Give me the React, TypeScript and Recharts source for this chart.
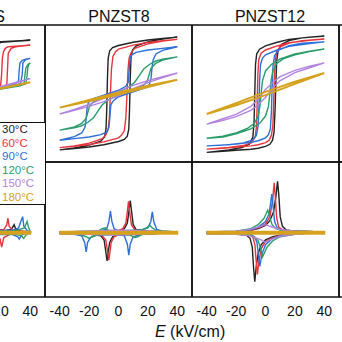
import { LineChart, Line, XAxis, YAxis } from 'recharts'

type Pt = [number, number]

const temps = ['30°C', '60°C', '90°C', '120°C', '150°C', '180°C']
const colors = ['#222222', '#e8333a', '#2d6fd8', '#2a9d6b', '#b383e0', '#d6a21e']
const titles = ['PNZS', 'PNZST8', 'PNZST12']
const eTicks = [-40, -30, -20, -10, 0, 10, 20, 30, 40]
const eLabels = [-40, -20, 0, 20, 40]
const eLabelsCut = [20, 40]
const pTicks = [-35, -25, -15, -5, 5, 15, 25, 35]
const jTicks = [-37, -27, -17, -7, 3, 13, 23, 33]

// P-E loops [E, P]: down branch from +40 then up branch from -40
const pe4_30: Pt[] = [[40,33],[20,32.2],[0,30.5],[-6,28],[-9,20],[-10,0],[-11,-20],[-14,-28],[-20,-31.8],[-40,-33],[-20,-32.2],[0,-30.5],[6,-28],[9,-20],[10,0],[11,20],[14,28],[20,31.8],[40,33]]
const pe4_60: Pt[] = [[40,30],[30,29.4],[25,29],[23,28],[21.8,26],[21,22],[20.5,12],[19.8,5],[15,3.2],[0,0.5],[-15,-2.5],[-22,-4],[-24,-5.5],[-24.5,-15],[-25,-25],[-27,-28],[-30,-29],[-40,-30],[-30,-29.4],[-25,-29],[-23,-28],[-21.8,-26],[-21,-22],[-20.5,-12],[-19.8,-5],[-15,-3.2],[0,-0.5],[15,2.5],[22,4],[24,5.5],[24.5,15],[25,25],[27,28],[30,29],[40,30]]
const pe4_90: Pt[] = [[40,21.8],[37,21.3],[34.5,20.5],[33,19],[32.4,14],[32,8],[30,6],[20,3.5],[0,0.4],[-20,-3],[-30,-5],[-33.5,-6.5],[-34.5,-12],[-35,-19],[-37,-21],[-40,-21.8],[-37,-21.3],[-34.5,-20.5],[-33,-19],[-32.4,-14],[-32,-8],[-30,-6],[-20,-3.5],[0,-0.4],[20,3],[30,5],[33.5,6.5],[34.5,12],[35,19],[37,21],[40,21.8]]
const pe4_120: Pt[] = [[40,19],[38.5,18],[37,16],[36.3,11],[35.8,6.5],[33,5.5],[20,3.2],[0,0.3],[-20,-2.8],[-33,-4.8],[-37,-6],[-37.8,-11],[-38.3,-16],[-39,-18],[-40,-19],[-38.5,-18],[-37,-16],[-36.3,-11],[-35.8,-6.5],[-33,-5.5],[-20,-3.2],[0,-0.3],[20,2.8],[33,4.8],[37,6],[37.8,11],[38.3,16],[39,18],[40,19]]
const pe4_150: Pt[] = [[40,9.2],[30,6.5],[20,4],[10,1.8],[0,0],[-10,-2.2],[-20,-4.4],[-30,-6.8],[-40,-9.2],[-30,-6.5],[-20,-4],[-10,-1.8],[0,0],[10,2.2],[20,4.4],[30,6.8],[40,9.2]]
const pe4_180: Pt[] = [[40,7],[20,3.3],[0,0.2],[-20,-3],[-40,-7],[-20,-3.3],[0,-0.2],[20,3],[40,7]]

const pe8_30: Pt[] = [[40,35],[30,34.2],[20,33.2],[10,31.8],[0,29.8],[-4,28.5],[-6,26.5],[-7,22],[-7.5,10],[-8,-10],[-8.5,-22],[-9.5,-27],[-12,-29.5],[-20,-32],[-30,-33.8],[-40,-35],[-30,-34.2],[-20,-33.2],[-10,-31.8],[0,-29.8],[4,-28.5],[6,-26.5],[7,-22],[7.5,-10],[8,10],[8.5,22],[9.5,27],[12,29.5],[20,32],[30,33.8],[40,35]]
const pe8_60: Pt[] = [[40,33.6],[30,32.8],[20,31.7],[10,30],[0,27.5],[-2,26],[-3.8,23],[-4.8,15],[-5.5,0],[-6.2,-15],[-7,-22],[-8.5,-25.5],[-11,-28],[-20,-30.8],[-30,-32.5],[-40,-33.6],[-30,-32.8],[-20,-31.7],[-10,-30],[0,-27.5],[2,-26],[4,-23],[5,-15],[5.8,0],[6.5,15],[7.2,22],[8.7,25.5],[11,28],[20,30.8],[30,32.5],[40,33.6]]
const pe8_90: Pt[] = [[40,29],[30,28],[20,27],[12,25.5],[9,24],[7.8,21],[7.2,14],[6.6,7],[5,4.5],[0,2],[-10,-1],[-18,-3.5],[-20.5,-5.5],[-21.5,-10],[-22,-16],[-22.8,-21],[-25,-24.5],[-30,-26.8],[-40,-29],[-30,-28],[-20,-27],[-12,-25.5],[-8,-24],[-6.5,-21],[-5.8,-14],[-5.2,-7],[-3.5,-4.5],[0,-2],[10,1],[18,3.5],[21,5.5],[22.2,10],[22.8,16],[23.6,21],[25.5,24.5],[30,26.8],[40,29]]
const pe8_120: Pt[] = [[40,22.7],[30,21.3],[25,20],[21,18],[17,15],[14,11],[11,7],[7,4],[0,1],[-10,-2.5],[-17,-5],[-19.5,-7.5],[-20.8,-11.5],[-22,-15.5],[-25,-18.5],[-30,-20.7],[-40,-22.7],[-30,-21.3],[-25,-20],[-21,-18],[-17,-15],[-14,-11],[-11,-7],[-7,-4],[0,-1],[10,2.5],[17,5],[19.5,7.5],[20.8,11.5],[22,15.5],[25,18.5],[30,20.7],[40,22.7]]
const pe8_150: Pt[] = [[40,12.7],[30,10.5],[20,8],[10,5],[0,1.5],[-10,-3],[-20,-6.8],[-30,-9.8],[-40,-12.7],[-30,-10.5],[-20,-8],[-10,-5],[0,-1.5],[10,3],[20,6.8],[30,9.8],[40,12.7]]
const pe8_180: Pt[] = [[40,8.5],[20,4.8],[0,0.6],[-20,-4],[-40,-8.8],[-20,-4.8],[0,-0.6],[20,4],[40,8.5]]

const pe12_30: Pt[] = [[40,35.7],[30,35],[16,33.6],[8,31.8],[0,29.5],[-4,27.5],[-6,24.5],[-6.8,18],[-7.3,0],[-7.8,-18],[-8.6,-27],[-11,-31.5],[-16,-33.5],[-25,-35],[-40,-36.5],[-29,-35.8],[-20,-35.2],[-10,-34.6],[-5,-34],[0,-32.8],[3,-31.5],[4.8,-29],[5.8,-24],[6.5,-10],[7,5],[7.6,20],[8.6,27],[11,30.5],[16,32.8],[25,34.5],[40,35.7]]
const pe12_60: Pt[] = [[40,33.8],[30,33],[16,31.5],[8,29.5],[0,27],[-3,25],[-4.6,21],[-5.2,12],[-5.6,-5],[-6.1,-20],[-7,-27],[-9.5,-30.5],[-15,-32.3],[-25,-33.5],[-40,-34.5],[-29,-34],[-20,-33.3],[-10,-32.5],[-5,-31.8],[0,-30.5],[2.5,-29],[4,-26],[5,-20],[5.5,-8],[6,8],[6.6,20],[7.6,26],[10,29],[16,31.3],[25,32.8],[40,33.8]]
const pe12_90: Pt[] = [[40,32],[30,31],[16,29.3],[8,27],[0,24],[-2,22],[-3.4,18],[-4,8],[-4.4,-8],[-5,-20],[-6.2,-26],[-9,-29],[-15,-30.6],[-25,-31.8],[-40,-32.5],[-29,-32],[-20,-31.3],[-10,-30.3],[-5,-29.3],[0,-27.5],[2,-25.5],[3.3,-22],[4,-12],[4.5,4],[5.1,17],[6.2,23.5],[9,27],[16,29.6],[25,31.2],[40,32]]
const pe12_120: Pt[] = [[40,27.6],[30,26.2],[20,24.5],[10,21.5],[4,18],[0,14],[-2,8],[-3,0],[-3.8,-8],[-5,-14],[-7.5,-18.5],[-12,-21.5],[-20,-24.5],[-29,-26.5],[-40,-27.8],[-29,-27],[-20,-25],[-10,-22],[-4,-18.5],[0,-14],[2,-8],[3,0],[3.8,8],[5,14],[7.5,18.5],[12,21.5],[20,24],[30,26],[40,27.6]]
const pe12_150: Pt[] = [[40,19],[30,17],[20,14.3],[10,10.5],[5,7],[0,2.5],[-5,-3.5],[-10,-8],[-20,-13],[-30,-16],[-40,-19],[-30,-17],[-20,-14.3],[-10,-10.5],[-5,-7],[0,-2.5],[5,3.5],[10,8],[20,13],[30,16],[40,19]]
const pe12_180: Pt[] = [[40,12.7],[20,7.3],[0,1],[-20,-6],[-40,-12.7],[-20,-7.3],[0,-1],[20,6],[40,12.7]]

// J-E curves [E, J]: up sweep from -40 then down sweep from +40
const j4_30: Pt[] = [[-40,0.5],[-14,1],[-11,4],[-10,9],[-9,4],[-6,1.2],[20,0.8],[27,2],[29,5],[30,2.5],[33,1],[40,0.5],[20,-0.8],[6,-1.2],[9,-4],[10,-9],[11,-4],[14,-1],[-40,-0.5]]
const j4_60: Pt[] = [[-40,0.5],[0,1],[22,2],[24,5],[24.8,9],[25.6,4],[28,1.5],[40,0.5],[26,-1],[22,-3],[20.5,-9],[19.5,-4],[17,-1.5],[0,-1],[-17,-1.5],[-19.5,-4],[-20.5,-9],[-22,-3],[-26,-1],[-40,-0.5]]
const j4_90: Pt[] = [[-40,0.5],[0,1],[28,1.5],[32,3],[34,8],[34.8,10],[35.6,4],[38,1.2],[40,0.5],[34,-1.5],[32.5,-4],[31.5,-2.5],[28,-1.2],[0,-1],[-40,-0.5]]
const j4_120: Pt[] = [[-40,0.5],[0,0.8],[30,1.2],[36,3],[37.8,7],[38.6,4],[40,0.5],[37,-1.5],[35.5,-3.5],[34,-2],[30,-1],[0,-0.8],[-40,-0.5]]
const j4_150: Pt[] = [[-40,0.5],[0,1.2],[40,0.5],[0,-1.2],[-40,-0.5]]
const j4_180: Pt[] = [[-40,0.6],[40,0.6],[40,-0.6],[-40,-0.6]]

const j8_30: Pt[] = [[-40,0.5],[-20,0.7],[0,1.2],[4,2.5],[6,6],[7.2,14],[8,20],[8.8,14],[10,5],[12,2],[20,1],[40,0.5],[20,-0.8],[0,-1.2],[-4,-2.5],[-6,-6],[-7,-12],[-7.8,-17.6],[-8.6,-12],[-9.8,-4.5],[-12,-2],[-20,-0.8],[-40,-0.5]]
const j8_60: Pt[] = [[-40,0.5],[-20,0.7],[0,1.3],[3,2.5],[5,6],[6,13],[6.8,19.5],[7.6,13],[8.8,5],[11,2],[20,1],[40,0.5],[20,-1],[0,-1.3],[-3,-2.5],[-5,-6],[-5.8,-12],[-6.6,-17],[-7.4,-12],[-8.6,-4.5],[-11,-2],[-20,-0.8],[-40,-0.5]]
const j8_90: Pt[] = [[-40,0.5],[-12,1],[-8,2.5],[-6.5,7],[-5.5,13.5],[-4.5,7],[-3,2.5],[0,1.2],[15,1.5],[20,3],[22,7],[23,13],[24,7],[26,2],[30,1],[40,0.5],[15,-1.2],[10,-2.5],[8,-7],[7,-14],[6,-7],[4,-2],[0,-1],[-15,-1.5],[-19,-3],[-21,-6],[-22,-12],[-23,-6],[-25,-2],[-30,-1],[-40,-0.5]]
const j8_120: Pt[] = [[-40,0.5],[-14,1],[-11,2.5],[-9,3],[-7,1.5],[0,1],[15,1.5],[19,3],[21.5,4.5],[23,3],[26,1.2],[40,0.5],[16,-1],[13,-2.5],[11,-3],[8,-1.5],[0,-1],[-14,-1.3],[-18,-2.5],[-20,-3.5],[-22,-2.5],[-26,-1],[-40,-0.5]]
const j8_150: Pt[] = [[-40,0.5],[0,1.5],[40,0.5],[0,-1.5],[-40,-0.5]]
const j8_180: Pt[] = [[-40,0.6],[40,0.6],[40,-0.6],[-40,-0.6]]

const j12_30: Pt[] = [[-40,0.5],[-20,0.8],[-10,1.5],[-5,2.5],[0,4.5],[3,7.5],[5.5,13],[7,22],[8.2,32],[9,24],[10,10],[11.5,4],[14,1.8],[20,1],[40,0.5],[20,-0.8],[10,-1.5],[5,-2.5],[0,-4.5],[-3,-7.5],[-5,-13],[-6.3,-21],[-7.3,-30.5],[-8.1,-22],[-9,-9],[-10.5,-3.5],[-13,-1.5],[-20,-0.9],[-40,-0.5]]
const j12_60: Pt[] = [[-40,0.5],[-20,0.8],[-10,1.5],[-5,3],[0,5.5],[3,10],[4.8,20],[5.9,31],[6.7,22],[7.6,9],[9,3.5],[12,1.5],[20,1],[40,0.5],[20,-0.8],[10,-1.5],[5,-3],[0,-5.5],[-3,-10],[-4.5,-18],[-5.5,-26],[-6.3,-18],[-7.2,-7.5],[-8.5,-3],[-11,-1.4],[-20,-0.9],[-40,-0.5]]
const j12_90: Pt[] = [[-40,0.5],[-20,0.8],[-10,1.8],[-5,3.5],[0,7],[2.5,12],[4.3,24],[5.2,16],[6.2,7],[8,3],[11,1.4],[20,1],[40,0.5],[20,-0.8],[10,-1.8],[5,-3.5],[0,-7.5],[-2.3,-13],[-3.9,-21],[-4.8,-14],[-5.8,-6],[-7.5,-2.5],[-10,-1.3],[-20,-0.9],[-40,-0.5]]
const j12_120: Pt[] = [[-40,0.5],[-20,1],[-10,2.5],[-5,5],[-1,9],[1.5,14],[2.8,10],[4.5,5],[7,2.5],[11,1.3],[20,1],[40,0.5],[20,-1],[10,-2.5],[5,-5],[1,-9],[-2,-15],[-3.3,-10],[-5,-5],[-7.5,-2.5],[-11,-1.3],[-20,-1],[-40,-0.5]]
const j12_150: Pt[] = [[-40,0.5],[-20,1],[-10,2.2],[-3,4],[0,5],[3,4],[10,2],[20,1],[40,0.5],[20,-1],[10,-2.2],[3,-4.5],[0,-6],[-3,-4.5],[-10,-2],[-20,-1],[-40,-0.5]]
const j12_180: Pt[] = [[-40,0.6],[40,0.6],[40,-0.6],[-40,-0.6]]

const peSets = [
  [pe4_30, pe4_60, pe4_90, pe4_120, pe4_150, pe4_180],
  [pe8_30, pe8_60, pe8_90, pe8_120, pe8_150, pe8_180],
  [pe12_30, pe12_60, pe12_90, pe12_120, pe12_150, pe12_180],
  [],
]
const jSets = [
  [j4_30, j4_60, j4_90, j4_120, j4_150, j4_180],
  [j8_30, j8_60, j8_90, j8_120, j8_150, j8_180],
  [j12_30, j12_60, j12_90, j12_120, j12_150, j12_180],
  [],
]

const toRows = (d: Pt[]) => d.map(([e, v]) => ({ e, v }))

const PW = 147
const M = 8
const font = '"Liberation Sans", Arial, sans-serif'
const ink = '#111'

function Panel({ x, y, h, sets, yDomain, yTicks, labels }: any) {
  const extra = labels ? 34 : 0
  const frame = { stroke: ink, strokeWidth: 1.5 }
  return (
    <div style={{ position: 'absolute', left: x - M, top: y - M }}>
      <LineChart width={PW + 2 * M} height={h + 2 * M + extra} margin={{ top: M, right: M, bottom: M, left: M }}>
        <XAxis xAxisId="b" dataKey="e" type="number" domain={[-50, 50]} ticks={eTicks} allowDataOverflow mirror tick={false} tickSize={4} axisLine={frame} tickLine={frame} />
        <XAxis xAxisId="t" dataKey="e" type="number" orientation="top" domain={[-50, 50]} ticks={eTicks} allowDataOverflow mirror tick={false} tickSize={4} axisLine={frame} tickLine={frame} />
        {labels && (
          <XAxis xAxisId="lab" dataKey="e" type="number" domain={[-50, 50]} ticks={labels} allowDataOverflow axisLine={false} tickLine={false} height={extra} tickMargin={3.5}
            tick={{ fontSize: 14, fill: ink, fontFamily: font }} />
        )}
        <YAxis yAxisId="l" type="number" domain={yDomain} ticks={yTicks} allowDataOverflow mirror tick={false} tickSize={4} axisLine={frame} tickLine={frame} />
        <YAxis yAxisId="r" type="number" orientation="right" domain={yDomain} ticks={yTicks} allowDataOverflow mirror tick={false} tickSize={4} axisLine={frame} tickLine={frame} />
        {sets.map((d: Pt[], i: number) => (
          <Line key={i} xAxisId="b" yAxisId="l" data={toRows(d)} dataKey="v" type="linear" stroke={colors[i]}
            strokeWidth={i === 5 ? 1.9 : 1.4} dot={false} activeDot={false} isAnimationActive={false} />
        ))}
      </LineChart>
    </div>
  )
}

export default function App() {
  const colX = [-102, 45, 192, 339]
  // left edge of each 120px-wide title box
  const titleLeft = [-115, 59, 210]
  return (
    <div style={{ position: 'absolute', left: 0, top: 0, width: 342, height: 342, overflow: 'hidden', background: '#fff', fontFamily: font }}>
      {colX.map((cx, c) => (
        <Panel key={'p' + c} x={cx} y={25} h={137} sets={peSets[c]} yDomain={[-42.5, 42.5]} yTicks={pTicks} />
      ))}
      {colX.slice(0, 3).map((cx, c) => (
        <Panel key={'j' + c} x={cx} y={162} h={135} sets={jSets[c]} yDomain={[-40, 44]} yTicks={jTicks} labels={c === 0 ? eLabelsCut : eLabels} />
      ))}
      <Panel x={colX[3]} y={162} h={135} sets={jSets[3]} yDomain={[-40, 44]} yTicks={jTicks} />
      {titles.map((t, c) => (
        <div key={t} style={{ position: 'absolute', left: titleLeft[c], top: 9, width: 120, textAlign: c === 0 ? 'right' : 'center', fontSize: 16, lineHeight: '16px', color: ink }}>
          {t}
        </div>
      ))}
      <div style={{ position: 'absolute', left: 155, top: 323.5, fontSize: 16, lineHeight: '16px', color: ink, whiteSpace: 'nowrap' }}>
        <i>E</i> (kV/cm)
      </div>
      <div style={{ position: 'absolute', left: -12, top: 122, width: 43, border: '1px solid #111', background: '#fff', paddingLeft: 13, boxSizing: 'content-box' }}>
        {temps.map((t, i) => (
          <div key={t} style={{ fontSize: 11.5, lineHeight: '13.5px', color: colors[i], whiteSpace: 'nowrap' }}>{t}</div>
        ))}
      </div>
    </div>
  )
}
